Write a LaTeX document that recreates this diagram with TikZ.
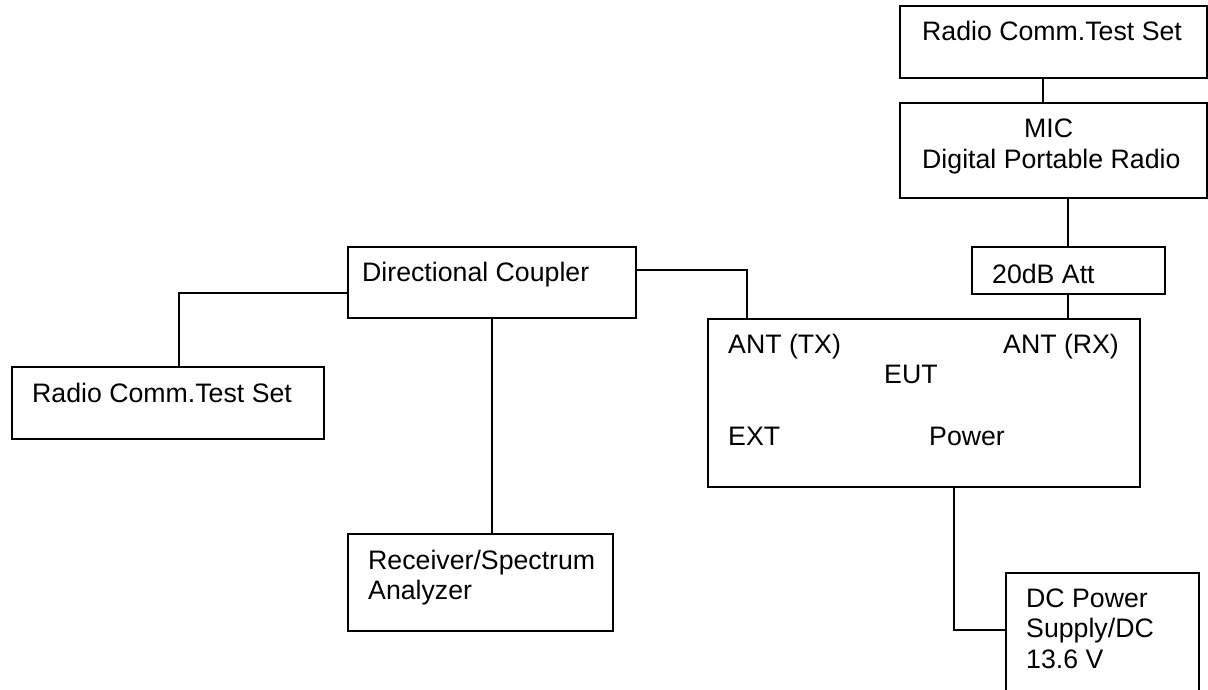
\documentclass[tikz,border=0pt]{standalone}
\usepackage{fontspec}
\setmainfont{Liberation Sans}
\begin{document}
\begin{tikzpicture}[x=1pt,y=-1pt,
  box/.style={draw,line width=1.6pt,inner sep=0pt,anchor=north west},
  lbl/.style={anchor=base west,inner sep=0pt,font=\fontsize{26.7}{30}\selectfont},
  wire/.style={line width=1.6pt}]
\clip (0,0) rectangle (1208,689);
\useasboundingbox (0,0) rectangle (1208,689);
% boxes
\node[box,minimum width=307pt,minimum height=72pt] (top) at (899,5) {};
\node[box,minimum width=307pt,minimum height=95pt] (mic) at (899,102) {};
\node[box,minimum width=193pt,minimum height=47pt] (att) at (971,246) {};
\node[box,minimum width=432pt,minimum height=168pt] (eut) at (707,318) {};
\node[box,minimum width=193pt,minimum height=140pt] (dc) at (1005,572) {};
\node[box,minimum width=288pt,minimum height=71pt] (cpl) at (347,246) {};
\node[box,minimum width=312pt,minimum height=72pt] (rcts) at (11,366) {};
\node[box,minimum width=265pt,minimum height=97pt] (recv) at (347,533) {};
% texts
\node[lbl] (t1) at (922,40) {Radio Comm.Test Set};
\node[lbl] (t2) at (1024,137) {MIC};
\node[lbl] (t3) at (922,168) {Digital Portable Radio};
\node[lbl] (t4) at (992,283) {20dB Att};
\node[lbl] (t5) at (32,402) {Radio Comm.Test Set};
\node[lbl] (t6) at (362,281) {Directional Coupler};
\node[lbl] (t7) at (728,353) {ANT (TX)};
\node[lbl] (t8) at (1003,353) {ANT (RX)};
\node[lbl] (t9) at (884,383) {EUT};
\node[lbl] (t10) at (728,445) {EXT};
\node[lbl] (t11) at (929,445) {Power};
\node[lbl] (t12) at (1026,607) {DC Power};
\node[lbl] (t13) at (1026,637) {Supply/DC};
\node[lbl] (t14) at (1026,668) {13.6 V};
\node[lbl] (t15) at (368,569) {Receiver/Spectrum};
\node[lbl] (t16) at (368,599) {Analyzer};
% connector coordinates
\coordinate (xa) at (1043,0);
\coordinate (xb) at (1068,0);
\coordinate (xtx) at (747,270);
\coordinate (xl) at (179,293);
\coordinate (xr) at (492,0);
\coordinate (xp) at (954,630);
% connectors
\draw[wire] (top.south -| xa) -- (mic.north -| xa);
\draw[wire] (mic.south -| xb) -- (att.north -| xb);
\draw[wire] (att.south -| xb) -- (eut.north -| xb);
\draw[wire] (cpl.east |- xtx) -- (xtx) -- (eut.north -| xtx);
\draw[wire] (cpl.west |- xl) -- (xl) -- (rcts.north -| xl);
\draw[wire] (cpl.south -| xr) -- (recv.north -| xr);
\draw[wire] (eut.south -| xp) -- (xp) -- (dc.west |- xp);
\end{tikzpicture}
\end{document}
